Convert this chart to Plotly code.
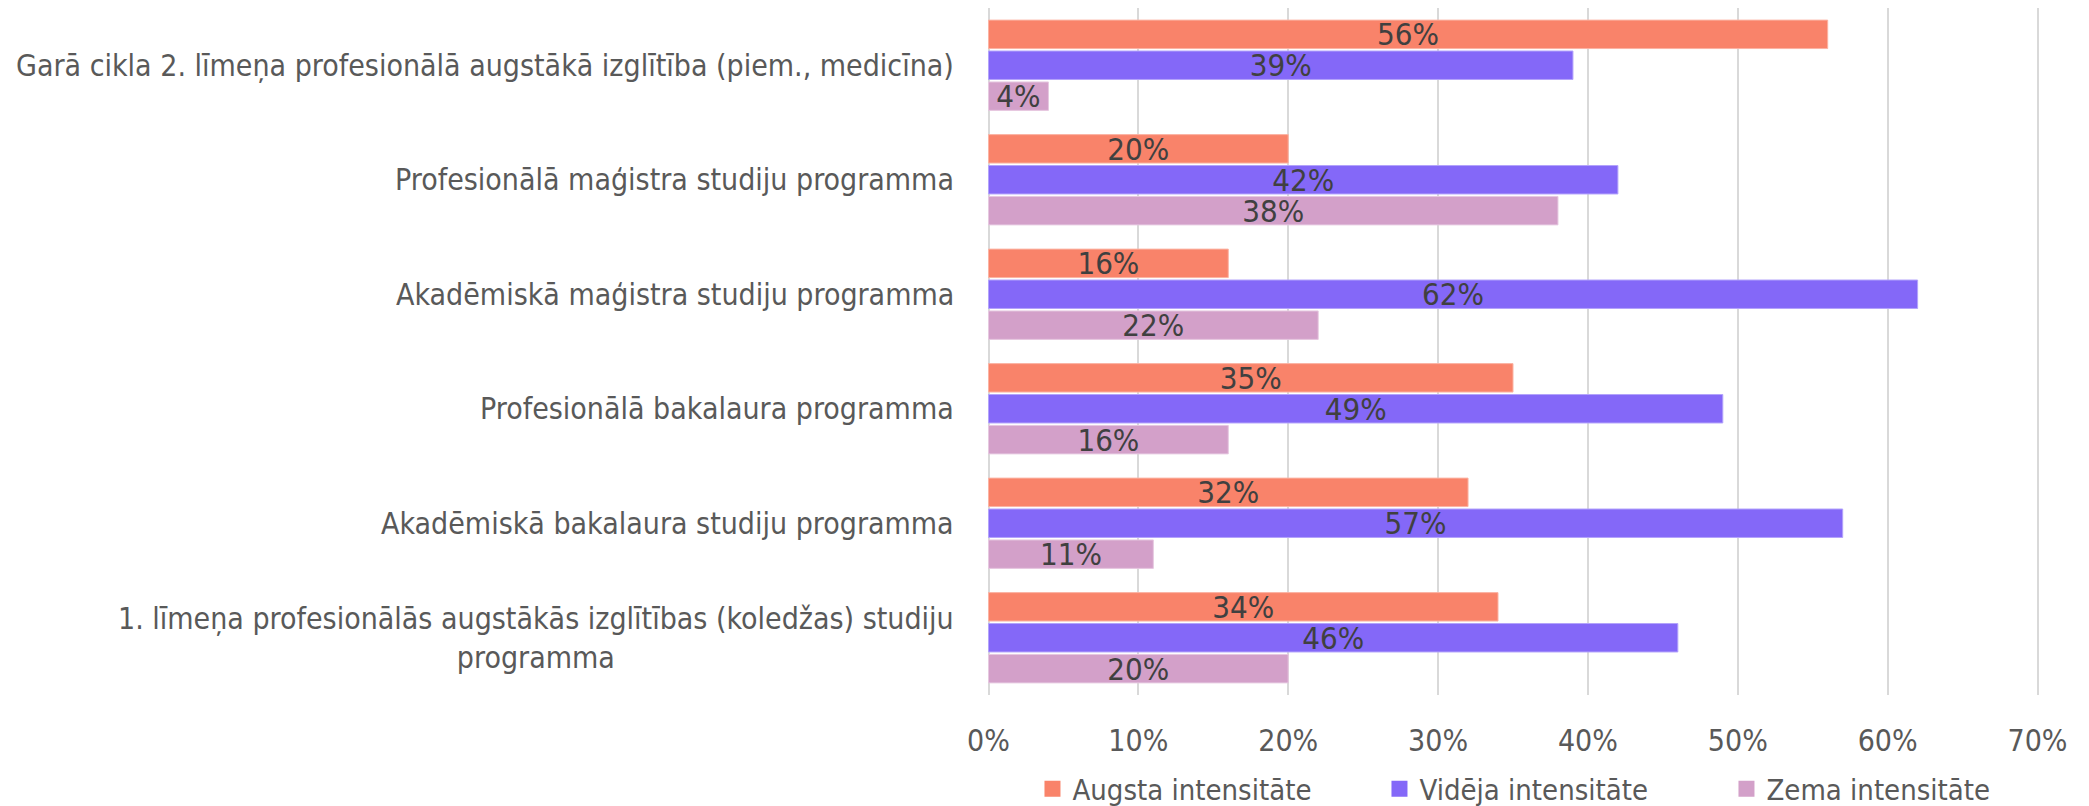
import plotly.graph_objects as go

categories = [
    "Garā cikla 2. līmeņa profesionālā augstākā izglītība (piem., medicīna)",
    "Profesionālā maģistra studiju programma",
    "Akadēmiskā maģistra studiju programma",
    "Profesionālā bakalaura programma",
    "Akadēmiskā bakalaura studiju programma",
    "1. līmeņa profesionālās augstākās izglītības (koledžas) studiju<br>programma",
]
series_names = ["Augsta intensitāte", "Vidēja intensitāte", "Zema intensitāte"]
augsta = [56, 20, 16, 35, 32, 34]
videja = [39, 42, 62, 49, 57, 46]
zema = [4, 38, 22, 16, 11, 20]
x_ticks = [0, 10, 20, 30, 40, 50, 60, 70]

colors = ["#F9836A", "#8468F8", "#D3A0C9"]
line_colors = ["#FBB3A3", "#B3A3FB", "#E6C8E0"]
FONT = "DejaVu Sans Condensed, sans-serif"

fig = go.Figure()
for name, vals, c, lc in zip(series_names, [augsta, videja, zema], colors, line_colors):
    fig.add_trace(go.Bar(
        y=categories, x=vals, name=name, orientation="h",
        marker=dict(color=c, line=dict(color=lc, width=1)),
        text=[f"{v}%" for v in vals], textposition="inside",
        insidetextanchor="middle", constraintext="none",
        textfont=dict(family=FONT, size=31, color="#404040"),
        hoverinfo="skip", showlegend=False,
    ))

# legend entries (larger square swatches)
for name, c in zip(series_names, colors):
    fig.add_trace(go.Scatter(
        x=[None], y=[None], mode="markers", name=name,
        marker=dict(symbol="square", size=19, color=c),
        hoverinfo="skip",
    ))

for cat in categories:
    fig.add_annotation(
        x=0, xref="paper", y=cat, yref="y", text=cat, showarrow=False,
        xanchor="right", yanchor="middle", xshift=-31.5, align="center",
        font=dict(family=FONT, size=30, color="#595959"),
    )

fig.update_layout(
    width=2081, height=798,
    margin=dict(l=978.5, r=49.5, t=0, b=111, autoexpand=False),
    paper_bgcolor="white", plot_bgcolor="white",
    barmode="group", bargap=0.19, bargroupgap=0.08,
    font=dict(family=FONT, size=29, color="#595959"),
    legend=dict(
        orientation="h", x=0.538, xanchor="center", xref="paper",
        y=0.0213, yanchor="middle", yref="container",
        font=dict(family=FONT, size=29, color="#595959"),
        traceorder="normal", itemclick=False, itemsizing="trace",
        entrywidth=302, entrywidthmode="pixels",
    ),
    xaxis=dict(
        range=[-0.1, 70.1], tickvals=x_ticks, ticktext=[f"{t}%" for t in x_ticks],
        showgrid=True, gridcolor="#D9D9D9", gridwidth=1.5,
        zeroline=False, showline=False, ticks="",
        ticklabelstandoff=25,
        tickfont=dict(family=FONT, size=30, color="#595959"),
    ),
    yaxis=dict(
        autorange="reversed", showticklabels=False, showgrid=False,
        zeroline=False, showline=False, ticks="", type="category",
    ),
)

fig.write_html("out.html")
